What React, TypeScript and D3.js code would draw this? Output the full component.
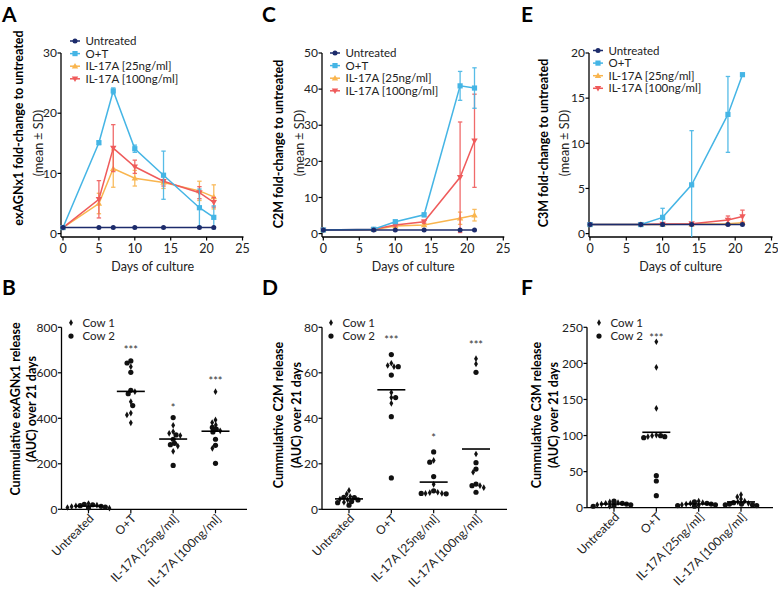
import React from "react";
import * as d3 from "d3";

const FONT = "Lato, 'Open Sans', Arial, sans-serif";

// ---------- Line panels data ----------
const seriesNames = ["Untreated", "O+T", "IL-17A [25ng/ml]", "IL-17A [100ng/ml]"];
const seriesColors = ["#1c2b6b", "#45b5e5", "#f9b54e", "#ef5b5b"];
const seriesMarkers = ["circle", "square", "triUp", "triDown"];

const daysA = [0, 5, 7, 10, 14, 19, 21];
const untreatedA = [1, 1, 1, 1, 1, 1, 1];
const untreatedSdA = [0, 0, 0, 0, 0, 0, 0];
const otA = [1, 15.1, 23.7, 14.1, 9.7, 4.3, 2.7];
const otSdA = [0, 0.3, 0.5, 0.6, 4.0, 3.1, 1.9];
const il25A = [1, 5.0, 10.8, 9.2, 8.5, 7.1, 6.1];
const il25SdA = [0, 1.7, 3.1, 1.3, 1.0, 1.6, 2.0];
const il100A = [1, 5.7, 14.2, 11.1, 8.7, 6.8, 5.2];
const il100SdA = [0, 3.1, 3.9, 1.1, 0.8, 1.0, 0.8];

const daysC = [0, 7, 10, 14, 19, 21];
const untreatedC = [1, 1, 1, 1, 1, 1];
const untreatedSdC = [0, 0, 0, 0, 0, 0];
const otC = [1, 1.2, 3.3, 5.2, 40.9, 40.3];
const otSdC = [0, 0.1, 0.3, 0.5, 4.0, 5.6];
const il25C = [1, 1.1, 2.1, 2.4, 4.25, 5.1];
const il25SdC = [0, 0.1, 0.3, 0.4, 1.7, 1.6];
const il100C = [1, 1.2, 2.4, 3.3, 15.6, 25.7];
const il100SdC = [0, 0.1, 0.3, 0.4, 15.3, 12.9];

const daysE = [0, 7, 10, 14, 19, 21];
const untreatedE = [1, 1, 1, 1, 1, 1];
const untreatedSdE = [0, 0, 0, 0, 0, 0];
const otE = [1, 1, 1.8, 5.4, 13.2, 17.6];
const otSdE = [0, 0, 1.0, 6.0, 4.2, 0.1];
const il25E = [1, 1, 1.02, 1.05, 1.1, 1.2];
const il25SdE = [0, 0, 0, 0.05, 0.1, 0.1];
const il100E = [1, 1, 1.05, 1.1, 1.5, 1.9];
const il100SdE = [0, 0, 0.05, 0.1, 0.45, 0.7];

const dayTicks = [0, 5, 10, 15, 20, 25];
const yTicksA = [0, 10, 20, 30];
const yTicksC = [0, 10, 20, 30, 40, 50];
const yTicksE = [0, 5, 10, 15, 20];

// ---------- Scatter panels data ----------
const categories = ["Untreated", "O+T", "IL-17A [25ng/ml]", "IL-17A [100ng/ml]"];
const cowNames = ["Cow 1", "Cow 2"];

const cow1B = [[25, 12, 18, 8, 15, 5], [627, 517, 473, 415, 423, 380], [369, 341, 324, 334, 278, 255], [517, 393, 381, 371, 345, 268]];
const cow2B = [[22, 16, 6, 13, 10, 20], [652, 602, 643, 523, 508, 456], [403, 327, 308, 290, 284, 193], [360, 352, 340, 308, 281, 202]];
const starsB = ["", "***", "*", "***"];
const starLevelB = [0, 713, 458, 577];
const yTicksB = [0, 200, 400, 600, 800];

const cow1D = [[5.6, 6.7, 8.3, 4.5, 4.1, 3.1], [64.2, 62.7, 63.2, 51.3, 46.6, 49.1], [21.5, 11.0, 7.0, 7.5, 7.3, 7.0], [66.2, 63.9, 24.3, 16.3, 9.5, 10.4]];
const cow2D = [[5.3, 3.4, 4.1, 2.9, 1.8, 5.1], [68.0, 62.7, 59.0, 49.1, 40.7, 13.8], [25.2, 20.7, 14.4, 8.1, 7.0, 6.8], [60.2, 20.5, 17.7, 11.1, 10.4, 7.5]];
const starsD = ["", "***", "*", "***"];
const starLevelD = [0, 75.3, 32.4, 73.1];
const yTicksD = [0, 20, 40, 60, 80];

const cow1F = [[6, 8, 4, 2, 7, 5], [230, 194.5, 137.7, 100.7, 98.4, 99.8], [7, 9, 4, 6, 3, 5], [18, 15, 12, 9, 8, 6]];
const cow2F = [[3, 9, 5, 2, 6, 4], [99.8, 97, 98.4, 44.4, 37, 16.6], [8, 6, 4, 2, 5, 3], [7, 5, 5, 4, 4, 3]];
const starsF = ["", "***", "", ""];
const starLevelF = [0, 238.4, 0, 0];
const yTicksF = [0, 50, 100, 150, 200, 250];

// ---------- helpers ----------
function Marker({ kind, x, y, color }: { kind: string; x: number; y: number; color: string }) {
  if (kind === "circle") return <circle cx={x} cy={y} r={2.5} fill={color} />;
  if (kind === "square") return <rect x={x - 2.6} y={y - 2.6} width={5.2} height={5.2} fill={color} />;
  if (kind === "triUp") return <path d={`M${x},${y - 3.2} L${x + 3.2},${y + 2.3} L${x - 3.2},${y + 2.3}Z`} fill={color} />;
  if (kind === "triDown") return <path d={`M${x},${y + 3.2} L${x + 3.2},${y - 2.3} L${x - 3.2},${y - 2.3}Z`} fill={color} />;
  const sym = d3.symbol().type(d3.symbolDiamond).size(13)();
  return <path d={sym || ""} transform={`translate(${x},${y})`} fill={color} />;
}

type LineProps = {
  axisX: number; x0: number; x25: number; yMax: number; yTicks: number[];
  days: number[]; means: number[][]; sds: number[][];
  title1: string; title2: string; t1x: number; t2x: number; t1cy: number; t2cy: number;
  legendX: number; legendY: number; letter: string; letterX: number;
};

function LinePanel(p: LineProps) {
  const yTop = 53, yBot = 233.6, xAxisY = 237;
  const x = d3.scaleLinear().domain([0, 25]).range([p.x0, p.x25]);
  const y = d3.scaleLinear().domain([0, p.yMax]).range([yBot, yTop]);
  const line = d3.line<number>().x((_, i) => x(p.days[i])).y((v) => y(v));
  const order = [2, 3, 1, 0];
  return (
    <g fontFamily={FONT}>
      <text x={p.letterX} y={21.5} fontSize={21} fontWeight={700}>{p.letter}</text>
      <line x1={p.axisX} x2={p.axisX} y1={yTop} y2={xAxisY} stroke="#000" strokeWidth={1.3} />
      <line x1={p.axisX} x2={x(25) + 1} y1={xAxisY} y2={xAxisY} stroke="#000" strokeWidth={1.3} />
      {p.yTicks.map((t) => (
        <g key={"yt" + t}>
          <line x1={p.axisX - 3.5} x2={p.axisX} y1={y(t)} y2={y(t)} stroke="#000" strokeWidth={1.2} />
          <text x={p.axisX - 4} y={y(t) + 4.2} fontSize={12} textAnchor="end" fill="#222">{t}</text>
        </g>
      ))}
      {dayTicks.map((t) => (
        <g key={"xt" + t}>
          <line x1={x(t)} x2={x(t)} y1={xAxisY} y2={xAxisY + 3.5} stroke="#000" strokeWidth={1.2} />
          <text x={x(t)} y={252.5} fontSize={12.5} textAnchor="middle" fill="#222">{t}</text>
        </g>
      ))}
      <text x={(p.x0 + p.x25) / 2} y={271} fontSize={12.5} textAnchor="middle" fill="#222">Days of culture</text>
      <text transform={`translate(${p.t1x},${p.t1cy}) rotate(-90)`} fontSize={12.5} fontWeight={700} textAnchor="middle" dominantBaseline="central">{p.title1}</text>
      <text transform={`translate(${p.t2x},${p.t2cy}) rotate(-90)`} fontSize={12.5} textAnchor="middle" dominantBaseline="central" fill="#222">{p.title2}</text>
      {order.map((si) => (
        <g key={"s" + si}>
          {p.means[si].map((m, i) => {
            const sd = p.sds[si][i];
            if (!sd) return null;
            const yt = y(m + sd);
            const yb = Math.min(y(m - sd), xAxisY);
            const cx = x(p.days[i]);
            return (
              <g key={"e" + i} stroke={seriesColors[si]} strokeWidth={1.3} opacity={0.9}>
                <line x1={cx} x2={cx} y1={yt} y2={yb} />
                <line x1={cx - 2.2} x2={cx + 2.2} y1={yt} y2={yt} />
                {y(m - sd) <= xAxisY && <line x1={cx - 2.2} x2={cx + 2.2} y1={yb} y2={yb} />}
              </g>
            );
          })}
          <path d={line(p.means[si]) || ""} fill="none" stroke={seriesColors[si]} strokeWidth={1.5} />
          {p.means[si].map((m, i) => (
            <Marker key={"m" + i} kind={seriesMarkers[si]} x={x(p.days[i])} y={y(m)} color={seriesColors[si]} />
          ))}
        </g>
      ))}
      {seriesNames.map((n, i) => {
        const ly = p.legendY + i * 12.6;
        return (
          <g key={"l" + i}>
            <line x1={p.legendX} x2={p.legendX + 10} y1={ly} y2={ly} stroke={seriesColors[i]} strokeWidth={1.5} />
            <Marker kind={seriesMarkers[i]} x={p.legendX + 5} y={ly} color={seriesColors[i]} />
            <text x={p.legendX + 15.5} y={ly + 4} fontSize={11.5} fill="#222">{n}</text>
          </g>
        );
      })}
    </g>
  );
}

function swarm(vals: { v: number; k: number }[], ys: (v: number) => number, d: number) {
  const sorted = [...vals].sort((a, b) => b.v - a.v);
  const placed: { x: number; y: number; k: number }[] = [];
  let flip = 1;
  for (const p of sorted) {
    const yy = ys(p.v);
    const iv = placed
      .filter((q) => Math.abs(q.y - yy) < d)
      .map((q) => {
        const w = Math.sqrt(d * d - (q.y - yy) * (q.y - yy));
        return [q.x - w, q.x + w];
      });
    const cands = [0, ...iv.flat()].sort((a, b) => Math.abs(a) - Math.abs(b) || flip * (a - b));
    let xx = 0;
    for (const c of cands) {
      if (iv.every(([a, b]) => c <= a + 1e-6 || c >= b - 1e-6)) { xx = c; break; }
    }
    if (xx !== 0) flip = -flip;
    placed.push({ x: xx, y: yy, k: p.k });
  }
  return placed;
}

type ScatterProps = {
  axisX: number; xEnd: number; y0: number; yMax: number; yTicks: number[];
  cow1: number[][]; cow2: number[][]; stars: string[]; starLevel: number[];
  title1: string; t1x: number; t2x: number; tcy: number; legendX: number;
  letter: string; letterX: number;
};

function ScatterPanel(p: ScatterProps) {
  const yTop = 327.3;
  const y = d3.scaleLinear().domain([0, p.yMax]).range([p.y0, yTop]);
  const xc = d3.scalePoint<string>().domain(categories).range([p.axisX + 27, p.axisX + 154]);
  return (
    <g fontFamily={FONT}>
      <text x={p.letterX} y={295} fontSize={21} fontWeight={700}>{p.letter}</text>
      <line x1={p.axisX} x2={p.axisX} y1={yTop} y2={p.y0} stroke="#000" strokeWidth={1.3} />
      <line x1={p.axisX} x2={p.xEnd} y1={p.y0} y2={p.y0} stroke="#000" strokeWidth={1.3} />
      {p.yTicks.map((t) => (
        <g key={"yt" + t}>
          <line x1={p.axisX - 3.5} x2={p.axisX} y1={y(t)} y2={y(t)} stroke="#000" strokeWidth={1.2} />
          <text x={p.axisX - 4} y={y(t) + 4.2} fontSize={12} textAnchor="end" fill="#222">{t}</text>
        </g>
      ))}
      {categories.map((c) => (
        <g key={"xt" + c}>
          <line x1={xc(c)} x2={xc(c)} y1={p.y0} y2={p.y0 + 4} stroke="#000" strokeWidth={1.2} />
          <text transform={`translate(${(xc(c) || 0) + 6},${p.y0 + 10}) rotate(-45)`} fontSize={12} textAnchor="end" fill="#222">{c}</text>
        </g>
      ))}
      <text transform={`translate(${p.t1x},${p.tcy}) rotate(-90)`} fontSize={12.5} fontWeight={700} textAnchor="middle" dominantBaseline="central">{p.title1}</text>
      <text transform={`translate(${p.t2x},${p.tcy}) rotate(-90)`} fontSize={12.5} fontWeight={700} textAnchor="middle" dominantBaseline="central">(AUC) over 21 days</text>
      {categories.map((c, ci) => {
        const vals = [...p.cow1[ci].map((v) => ({ v, k: 0 })), ...p.cow2[ci].map((v) => ({ v, k: 1 }))];
        const pts = swarm(vals, y, 4.3);
        const cx = xc(c) || 0;
        const mean = d3.mean(vals, (d) => d.v) || 0;
        return (
          <g key={"g" + c}>
            {pts.map((pt, i) =>
              pt.k === 0 ? (
                <Marker key={i} kind="diamond" x={cx + pt.x} y={pt.y} color="#111" />
              ) : (
                <circle key={i} cx={cx + pt.x} cy={pt.y} r={2.6} fill="#111" />
              )
            )}
            <line x1={cx - 14} x2={cx + 14} y1={y(mean)} y2={y(mean)} stroke="#000" strokeWidth={1.6} />
            {p.stars[ci] && (
              <text x={cx} y={y(p.starLevel[ci]) + 6.5} fontSize={11} textAnchor="middle" fill="#333">{p.stars[ci]}</text>
            )}
          </g>
        );
      })}
      {cowNames.map((n, i) => {
        const ly = 322.7 + i * 13.4;
        return (
          <g key={"lg" + i}>
            {i === 0 ? <Marker kind="diamond" x={p.legendX} y={ly} color="#111" /> : <circle cx={p.legendX} cy={ly} r={2.6} fill="#111" />}
            <text x={p.legendX + 11.5} y={ly + 4} fontSize={11.5} fill="#222">{n}</text>
          </g>
        );
      })}
    </g>
  );
}

export default function App() {
  return (
    <svg width={778} height={589} style={{ position: "absolute", left: 0, top: 0, background: "#fff" }}>
      <rect width={778} height={589} fill="#fff" />
      <LinePanel
        axisX={61} x0={63} x25={242.5} yMax={30} yTicks={yTicksA} days={daysA}
        means={[untreatedA, otA, il25A, il100A]} sds={[untreatedSdA, otSdA, il25SdA, il100SdA]}
        title1="exAGNx1 fold-change to untreated" title2="(mean ± SD)" t1x={18} t2x={38} t1cy={128} t2cy={143}
        legendX={70} legendY={41} letter="A" letterX={2}
      />
      <LinePanel
        axisX={322} x0={323.3} x25={503.3} yMax={50} yTicks={yTicksC} days={daysC}
        means={[untreatedC, otC, il25C, il100C]} sds={[untreatedSdC, otSdC, il25SdC, il100SdC]}
        title1="C2M fold-change to untreated" title2="(mean ± SD)" t1x={278} t2x={299} t1cy={144} t2cy={143}
        legendX={330} legendY={53} letter="C" letterX={262}
      />
      <LinePanel
        axisX={589} x0={590} x25={771.5} yMax={20} yTicks={yTicksE} days={daysE}
        means={[untreatedE, otE, il25E, il100E]} sds={[untreatedSdE, otSdE, il25SdE, il100SdE]}
        title1="C3M fold-change to untreated" title2="(mean ± SD)" t1x={543} t2x={564} t1cy={143} t2cy={143}
        legendX={593} legendY={50.5} letter="E" letterX={521}
      />
      <ScatterPanel
        axisX={61.5} xEnd={247} y0={509.3} yMax={800} yTicks={yTicksB}
        cow1={cow1B} cow2={cow2B} stars={starsB} starLevel={starLevelB}
        title1="Cummulative exAGNx1 release" t1x={15} t2x={31} tcy={409} legendX={71}
        letter="B" letterX={2}
      />
      <ScatterPanel
        axisX={322} xEnd={507} y0={509.3} yMax={80} yTicks={yTicksD}
        cow1={cow1D} cow2={cow2D} stars={starsD} starLevel={starLevelD}
        title1="Cummulative C2M release" t1x={278} t2x={296} tcy={415} legendX={331}
        letter="D" letterX={262}
      />
      <ScatterPanel
        axisX={587} xEnd={773} y0={507.7} yMax={250} yTicks={yTicksF}
        cow1={cow1F} cow2={cow2F} stars={starsF} starLevel={starLevelF}
        title1="Cummulative C3M release" t1x={536} t2x={553} tcy={415} legendX={599}
        letter="F" letterX={521}
      />
    </svg>
  );
}
